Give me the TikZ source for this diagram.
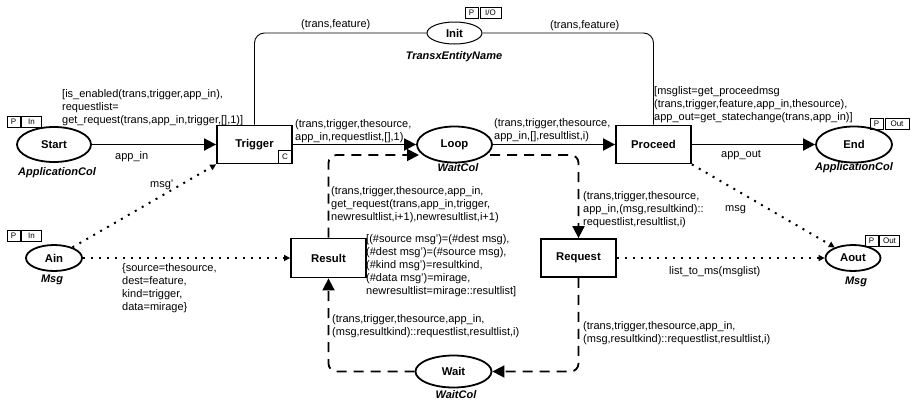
\documentclass[tikz,border=0pt]{standalone}
\usepackage{fontspec}
\setmainfont{Liberation Sans}
\usetikzlibrary{shapes.geometric,arrows.meta}
\begin{document}
\begin{tikzpicture}[x=1pt,y=-1pt,
  every node/.style={font=\fontsize{11}{13}\selectfont, inner sep=0pt},
  place/.style={ellipse, draw, line width=1.8pt, font=\fontsize{11.3}{13}\selectfont\bfseries},
  trans/.style={rectangle, draw, line width=1.8pt, minimum width=75pt, minimum height=38pt, font=\fontsize{11.3}{13}\selectfont\bfseries},
  colset/.style={font=\fontsize{11}{13}\selectfont\bfseries\itshape},
  tagbox/.style={rectangle, draw, line width=0.5pt, font=\fontsize{8}{9}\selectfont, minimum height=11pt},
  lbl/.style={align=left, anchor=north west},
  blbl/.style={anchor=base west},
  arc/.style={line width=1.8pt, -{Triangle[length=12pt,width=12pt]}},
  dashedarc/.style={line width=1.8pt, dash pattern=on 10pt off 7pt, rounded corners=8pt, -{Triangle[length=12pt,width=12pt]}},
  dotarc/.style={line width=2pt, dash pattern=on 2pt off 6pt, -{Triangle[length=6pt,width=6pt]}},
  thinarc/.style={line width=0.9pt, rounded corners=10pt},
]
\useasboundingbox (0,0) rectangle (913,405);

% places and transitions
\node[place, minimum width=74pt, minimum height=35pt] (start) at (54,144.5) {Start};
\node[trans] (trig) at (254.5,144.5) {Trigger};
\node[place, minimum width=75pt, minimum height=36pt] (loop) at (454.5,144.5) {Loop};
\node[trans] (proc) at (653.5,144.5) {Proceed};
\node[place, minimum width=76pt, minimum height=36pt] (end) at (854,144.5) {End};
\node[place, line width=1pt, minimum width=55pt, minimum height=22pt] (init) at (454.5,33) {Init};
\node[trans, minimum height=39pt] (res) at (328.5,258) {Result};
\node[trans] (req) at (578.5,258) {Request};
\node[place, minimum width=56pt, minimum height=26pt] (ain) at (54,258) {Ain};
\node[place, minimum width=55pt, minimum height=26pt] (aout) at (853,258) {Aout};
\node[place, minimum width=76pt, minimum height=32pt] (wait) at (453.5,371.5) {Wait};

% colour sets
\node[colset] (csStart) at (57,173) {ApplicationCol};
\node[colset] (csInit) at (454,57) {TransxEntityName};
\node[colset] (csLoop) at (458,168) {WaitCol};
\node[colset] (csEnd) at (854,168) {ApplicationCol};
\node[colset] (csAin) at (52,280) {Msg};
\node[colset] (csAout) at (856,282) {Msg};
\node[colset] (csWait) at (456,395) {WaitCol};

% port tags
\node[tagbox, minimum width=13pt] (tpStart) at (13.5,121.5) {P};
\node[tagbox, minimum width=20pt] (tiStart) at (31.5,121.5) {In};
\node[tagbox, minimum width=13pt] (tpInit) at (471.5,12.5) {P};
\node[tagbox, minimum width=21pt] (tiInit) at (490.5,12.5) {I/O};
\node[tagbox, minimum width=13pt] (tpEnd) at (876.5,123.5) {P};
\node[tagbox, minimum width=24pt] (tiEnd) at (897,123.5) {Out};
\node[tagbox, minimum width=13pt] (tpAin) at (13.5,235.5) {P};
\node[tagbox, minimum width=20pt] (tiAin) at (31.5,235.5) {In};
\node[tagbox, minimum width=13pt] (tpAout) at (871.5,241) {P};
\node[tagbox, minimum width=20pt] (tiAout) at (889.5,241) {Out};
\node[tagbox, minimum width=13pt, minimum height=13pt] (cTrig) at (285,156.5) {C};

% solid arcs
\draw[arc] (start) -- (trig);
\draw[arc] (trig) -- (loop);
\draw[arc] (loop) -- (proc);
\draw[arc] (proc) -- (end);
\draw[thinarc] (trig.north) |- (init.west);
\draw[thinarc] (init.east) -| (proc.north);

% dashed arcs
\coordinate (lw) at (419,155);
\coordinate (le) at (490,155);
\draw[dashedarc] (res.north) |- (lw);
\draw[dashedarc] (le) -| (req.north);
\draw[dashedarc] (req.south) |- (wait.east);
\draw[dashedarc] (wait.west) -| (res.south);

% dotted arcs
\draw[dotarc] (ain) -- (trig.south west);
\draw[dotarc] (ain) -- (res);
\draw[dotarc] (proc.south east) -- (aout);
\draw[dotarc] (req) -- (aout);

% inscriptions
\node[lbl] (gTrig) at (62,89) {[is\_enabled(trans,trigger,app\_in),\\requestlist=\\get\_request(trans,app\_in,trigger,[],1)]};
\node[blbl] (lAppIn) at (115,159) {app\_in};
\node[blbl] (lInitL) at (301,27) {(trans,feature)};
\node[lbl] (lTL) at (295,119) {(trans,trigger,thesource,\\app\_in,requestlist,[],1)};
\node[lbl] (lLP) at (494,118) {(trans,trigger,thesource,\\app\_in,[],resultlist,i)};
\node[lbl] (gProc) at (654,86) {[msglist=get\_proceedmsg\\(trans,trigger,feature,app\_in,thesource),\\app\_out=get\_statechange(trans,app\_in)]};
\node[blbl] (lInitR) at (550,28) {(trans,feature)};
\node[blbl] (lAppOut) at (721,157) {app\_out};
\node[blbl] (lMsgP) at (150,187) {msg'};
\node[lbl] (lAR) at (122,263) {\{source=thesource,\\dest=feature,\\kind=trigger,\\data=mirage\}};
\node[lbl] (lRL) at (331,186) {(trans,trigger,thesource,app\_in,\\get\_request(trans,app\_in,trigger,\\newresultlist,i+1),newresultlist,i+1)};
\node[lbl] (gRes) at (366,234) {[(\#source msg')=(\#dest msg),\\(\#dest msg')=(\#source msg),\\(\#kind msg')=resultkind,\\(\#data msg')=mirage,\\newresultlist=mirage::resultlist]};
\node[lbl] (lWR) at (332,314) {(trans,trigger,thesource,app\_in,\\(msg,resultkind)::requestlist,resultlist,i)};
\node[lbl] (lLR) at (583,191) {(trans,trigger,thesource,\\app\_in,(msg,resultkind)::\\requestlist,resultlist,i)};
\node[blbl] (lMsg) at (725,211) {msg};
\node[blbl] (lList) at (669,274) {list\_to\_ms(msglist)};
\node[lbl] (lRW) at (583,321) {(trans,trigger,thesource,app\_in,\\(msg,resultkind)::requestlist,resultlist,i)};
\end{tikzpicture}
\end{document}
